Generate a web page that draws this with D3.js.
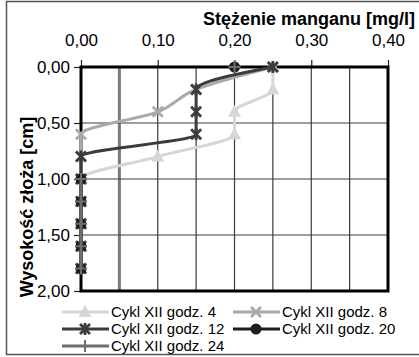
<!DOCTYPE html>
<html>
<head>
<meta charset="utf-8">
<script src="https://cdn.jsdelivr.net/npm/d3@7"></script>
<style>
  body { margin: 0; background: #fff; }
  svg { display: block; }
  text { font-family: "Liberation Sans", Arial, sans-serif; }
</style>
</head>
<body>
<svg id="chart" width="419" height="357"></svg>
<script>
// depth of sampling points in the bed [cm]
const depths = [0, 0.2, 0.4, 0.6, 0.8, 1.0, 1.2, 1.4, 1.6, 1.8];

// manganese concentration [mg/l], null = no value
const godz4  = [0.25, 0.25, 0.20, 0.20, 0.10, 0, 0, 0, 0, 0];
const godz8  = [0.25, 0.15, 0.10, 0, 0, 0, 0, 0, 0, 0];
const godz12 = [0.25, 0.15, 0.15, 0.15, 0, 0, 0, 0, 0, 0];
const godz20 = [0.20, null, null, null, null, 0, 0, 0, 0, 0];
const godz24 = [0.20, null, null, null, null, 0, 0, 0, 0, 0];

const xTicks = [0, 0.1, 0.2, 0.3, 0.4];
const yTicks = [0, 0.5, 1.0, 1.5, 2.0];
const xGrid = [0.05, 0.1, 0.15, 0.2, 0.25, 0.3, 0.35];

const series = [
  { name: 'Cykl XII godz. 4',  values: godz4,  color: '#d6d6d6', marker: 'triangle' },
  { name: 'Cykl XII godz. 8',  values: godz8,  color: '#aaaaaa', marker: 'cross' },
  { name: 'Cykl XII godz. 12', values: godz12, color: '#3c3c3c', marker: 'star' },
  { name: 'Cykl XII godz. 20', values: godz20, color: '#1e1e1e', marker: 'circle' },
  { name: 'Cykl XII godz. 24', values: godz24, color: '#6e6e6e', marker: 'plus' }
];

const svg = d3.select('#chart');
const fmt = d => d3.format('.2f')(d).replace('.', ',');

const x = d3.scaleLinear().domain([0, 0.4]).range([81, 388]);
const y = d3.scaleLinear().domain([0, 2]).range([67, 291]);

// outer frame
svg.append('rect')
  .attr('x', 6.5).attr('y', 1.5).attr('width', 420).attr('height', 353)
  .attr('fill', 'none').attr('stroke', '#555').attr('stroke-width', 1.5);

// grid
svg.append('g').selectAll('line').data(xGrid).join('line')
  .attr('x1', d => x(d)).attr('x2', d => x(d))
  .attr('y1', y(0)).attr('y2', y(2))
  .attr('stroke', d => d === 0.05 ? '#7a7a7a' : '#3a3a3a')
  .attr('stroke-width', d => d === 0.05 ? 3 : 1.2);
svg.append('g').selectAll('line').data([0.5, 1.0, 1.5]).join('line')
  .attr('x1', x(0)).attr('x2', x(0.4))
  .attr('y1', d => y(d)).attr('y2', d => y(d))
  .attr('stroke', '#3a3a3a').attr('stroke-width', 1.2);

// axes
const xAxis = svg.append('g')
  .attr('transform', `translate(0,${y(0)})`)
  .call(d3.axisTop(x).tickValues(xTicks).tickFormat(fmt).tickSize(7).tickPadding(14).tickSizeOuter(0));
const yAxis = svg.append('g')
  .attr('transform', `translate(${x(0)},0)`)
  .call(d3.axisLeft(y).tickValues(yTicks).tickFormat(fmt).tickSize(7).tickPadding(4).tickSizeOuter(0));
[xAxis, yAxis].forEach(g => {
  g.attr('font-family', null).attr('font-size', null);
  g.select('.domain').remove();
  g.selectAll('.tick line').attr('stroke', '#222').attr('stroke-width', 1.2);
  g.selectAll('.tick text').attr('fill', '#000').style('font-size', '17px');
});

// plot area frame
svg.append('rect')
  .attr('x', x(0)).attr('y', y(0))
  .attr('width', x(0.4) - x(0)).attr('height', y(2) - y(0))
  .attr('fill', 'none').attr('stroke', '#000').attr('stroke-width', 3);

function drawMarker(g, type, color) {
  if (type === 'triangle') {
    g.append('path').attr('d', 'M0,-7L6.5,5L-6.5,5Z').attr('fill', color);
  } else if (type === 'cross') {
    g.append('path').attr('d', 'M-5,-5L5,5M-5,5L5,-5').attr('stroke', color).attr('stroke-width', 2.8);
  } else if (type === 'star') {
    g.append('path').attr('d', 'M-5,-5L5,5M-5,5L5,-5M0,-6L0,6').attr('stroke', color).attr('stroke-width', 2.8);
  } else if (type === 'circle') {
    g.append('circle').attr('r', 5.5).attr('fill', color);
  } else if (type === 'plus') {
    g.append('path').attr('d', 'M-6,0L6,0M0,-6L0,6').attr('stroke', color).attr('stroke-width', 2);
  }
}

const line = d3.line()
  .defined(d => d.v !== null)
  .x(d => x(d.v)).y(d => y(d.h))
  .curve(d3.curveMonotoneY);

series.forEach(s => {
  const pts = s.values.map((v, i) => ({ v: v, h: depths[i] }));
  svg.append('path').datum(pts)
    .attr('d', line)
    .attr('fill', 'none').attr('stroke', s.color).attr('stroke-width', 3);
  pts.filter(d => d.v !== null).forEach(d => {
    const g = svg.append('g').attr('transform', `translate(${x(d.v)},${y(d.h)})`);
    drawMarker(g, s.marker, s.color);
  });
});

// titles
svg.append('text')
  .attr('x', 415).attr('y', 25).attr('text-anchor', 'end')
  .style('font-size', '18px').style('font-weight', 'bold')
  .text('Stężenie manganu [mg/l]');
svg.append('text')
  .attr('transform', 'translate(33,207) rotate(-90)')
  .attr('text-anchor', 'middle')
  .style('font-size', '18px').style('font-weight', 'bold')
  .text('Wysokość złoża [cm]');

// legend
const legendPos = [[62, 312], [233, 312], [62, 329], [233, 329], [62, 346]];
series.forEach((s, i) => {
  const [lx, ly] = legendPos[i];
  const g = svg.append('g').attr('transform', `translate(${lx},${ly})`);
  g.append('line').attr('x1', 0).attr('x2', 47).attr('stroke', s.color).attr('stroke-width', 3);
  drawMarker(g.append('g').attr('transform', 'translate(23,0)'), s.marker, s.color);
  g.append('text').attr('x', 49).attr('dy', '0.35em')
    .style('font-size', '15px').text(s.name);
});
</script>
</body>
</html>
